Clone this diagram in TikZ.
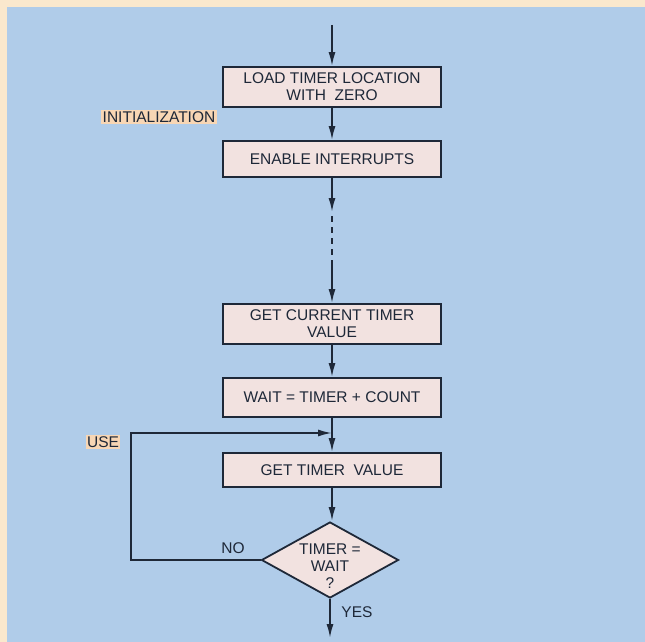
\documentclass[tikz,border=0pt]{standalone}
\usepackage{fontspec}
\setmainfont{Liberation Sans}
\usetikzlibrary{shapes.geometric,arrows.meta}
\definecolor{bgblue}{HTML}{B0CCE9}
\definecolor{peach}{HTML}{FAE8CD}
\definecolor{boxfill}{HTML}{F2E2E0}
\definecolor{hilite}{HTML}{F8D6B4}
\definecolor{ink}{HTML}{1E2838}
\tikzset{
  x=1pt,y=-1pt,
  every node/.style={font=\fontsize{15.5}{17}\selectfont, text=ink},
  stepbox/.style={draw=ink, line width=1.8pt, fill=boxfill, minimum width=218pt, align=center, inner sep=0pt},
  dia/.style={diamond, draw=ink, line width=1.8pt, fill=boxfill, minimum width=137pt, minimum height=76pt, inner sep=0pt},
  conn/.style={draw=ink, line width=1.8pt},
  arr/.style={conn, -{Latex[length=14pt,width=7pt]}},
  tag/.style={fill=hilite, inner sep=1.5pt},
  plain/.style={inner sep=0pt}
}
\begin{document}
\begin{tikzpicture}
\useasboundingbox (0,0) rectangle (645,642);
\fill[peach] (0,0) rectangle (645,642);
\fill[bgblue] (7,7) rectangle (645,642);

\node[stepbox, minimum height=40pt] (b1) at (332,87) {LOAD TIMER LOCATION\\WITH\ \ ZERO};
\node[stepbox, minimum height=36pt] (b2) at (332,159) {ENABLE INTERRUPTS};
\node[stepbox, minimum height=40pt] (b3) at (332,324) {GET CURRENT TIMER\\VALUE};
\node[stepbox, minimum height=39pt] (b4) at (332,397.5) {WAIT = TIMER + COUNT};
\node[stepbox, minimum height=34pt] (b5) at (332,470) {GET TIMER\ \ VALUE};
\node[dia] (d) at (330,560) {};
\node[plain, align=center] (dt) at (330,566) {TIMER =\\WAIT\\?};

\node[tag] (init) at (159,117) {INITIALIZATION};
\node[tag] (use) at (103,442) {USE};
\node[plain] (no) at (233,548) {NO};
\node[plain] (yes) at (357,612) {YES};

\coordinate (top) at (332,25);
\coordinate (a1) at (332,212);
\coordinate (ds) at (332,216);
\coordinate (de) at (332,262);
\coordinate (m) at (332,433);
\coordinate (lb) at (131,560);
\coordinate (lt) at (131,433);
\coordinate (out) at (330,638);

\draw[arr] (top) -- (b1.north);
\draw[arr] (b1.south) -- (b2.north);
\draw[arr] (b2.south) -- (a1);
\draw[conn, dash pattern=on 6pt off 5pt] (ds) -- (de);
\draw[arr] (de) -- (b3.north);
\draw[arr] (b3.south) -- (b4.north);
\draw[arr] (b4.south) -- (b5.north);
\draw[arr] (b5.south) -- (b5.south |- d.north);
\draw[arr] (d.west) -- (lb) -- (lt) -- (m);
\draw[arr] (d.south) -- (out);
\end{tikzpicture}
\end{document}
